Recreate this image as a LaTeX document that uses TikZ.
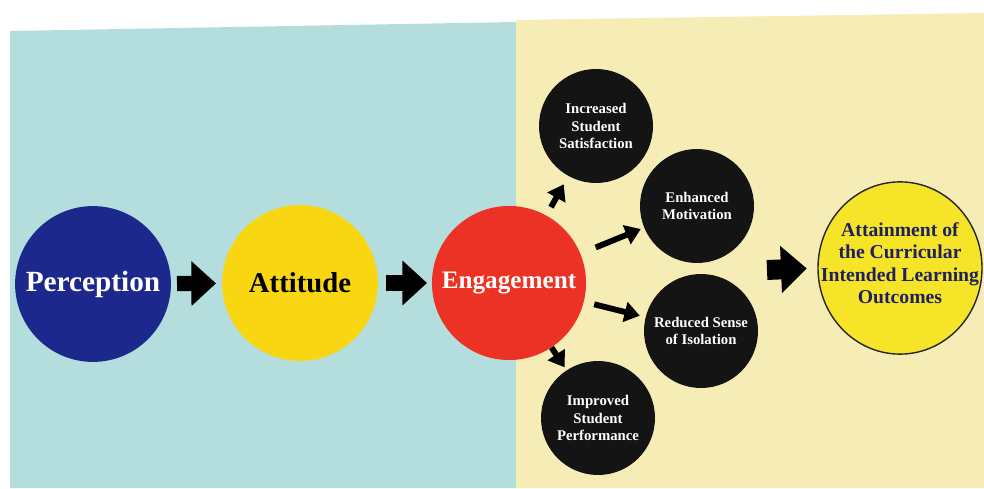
\documentclass[tikz,border=0pt]{standalone}
\usepackage{fontspec}
\setmainfont{Liberation Serif}
\usetikzlibrary{arrows.meta,shapes.geometric}
\definecolor{tealbg}{RGB}{180,222,222}
\definecolor{yellowbg}{RGB}{246,236,182}
\definecolor{percblue}{RGB}{28,40,140}
\definecolor{attyellow}{RGB}{248,214,18}
\definecolor{engred}{RGB}{236,50,36}
\definecolor{darkcirc}{RGB}{20,20,20}
\definecolor{attnyellow}{RGB}{246,228,40}
\definecolor{navytext}{RGB}{30,32,95}
\tikzset{
  bigcirc/.style={circle, inner sep=0pt, minimum size=133pt, font=\bfseries},
  smallcirc/.style={circle, inner sep=0pt, minimum size=97.3pt, fill=darkcirc, text=white,
     align=center, font=\fontsize{12.6}{14.6}\selectfont\bfseries},
  bigarrow/.style={line width=13pt, -{Triangle[length=21pt, width=37pt]}, draw=black},
  smallarrow/.style={line width=5pt, -{Triangle[length=13pt, width=17pt]}, draw=black},
}
\begin{document}
\begin{tikzpicture}[x=0.03cm, y=-0.03cm]
\useasboundingbox (0,0) rectangle (984,489);
\fill[white] (0,0) rectangle (984,489);
\fill[tealbg] (10,31) -- (516,22) -- (516,488) -- (10,488) -- cycle;
\fill[yellowbg] (516,20) -- (984,13) -- (984,488) -- (516,488) -- cycle;

\node[bigcirc, fill=percblue, text=white, font=\fontsize{25}{30}\selectfont\bfseries] (perc) at (93,284) {Perception};
\node[bigcirc, fill=attyellow, text=black, font=\fontsize{24.5}{30}\selectfont\bfseries] (att) at (300,283) {Attitude};
\node[bigcirc, minimum size=131.5pt, fill=engred, text=white, font=\fontsize{21.5}{26}\selectfont\bfseries] (eng) at (509,283) {Engagement};

\node[smallcirc] (iss) at (596,126) {Increased\\Student\\Satisfaction};
\node[smallcirc] (em) at (697,206) {Enhanced\\Motivation};
\node[smallcirc] (rsi) at (701,331) {Reduced Sense\\of Isolation};
\node[smallcirc] (isp) at (598,418) {Improved\\Student\\Performance};

\node[ellipse, inner sep=0pt, minimum width=140pt, minimum height=147pt, fill=attnyellow, draw=black!85, line width=1.2pt]
      (ilo) at (900,268) {};
\node[text=navytext, align=center, inner sep=0pt, font=\fontsize{16.8}{19}\selectfont\bfseries]
      (ilotext) at ([yshift=4pt]ilo.center) {Attainment of\\the Curricular\\Intended Learning\\Outcomes};

\draw[bigarrow, shorten <=5pt, shorten >=5pt] (perc) -- (att);
\draw[bigarrow, shorten <=7pt, shorten >=4pt] (att) -- (eng);
\coordinate (out) at (767,270);
\draw[bigarrow, line width=17pt, -{Triangle[length=22pt, width=39pt]}, shorten >=9pt] (out) -- (ilo.west);

\draw[smallarrow, shorten <=8pt, shorten >=8pt] (eng) -- (iss);
\draw[smallarrow, shorten <=14pt, shorten >=3pt] (eng) -- (em);
\draw[smallarrow, shorten <=9pt, shorten >=5pt] (eng) -- (rsi);
\draw[smallarrow, shorten <=0pt, shorten >=3pt] (eng) -- (isp);
\end{tikzpicture}
\end{document}
